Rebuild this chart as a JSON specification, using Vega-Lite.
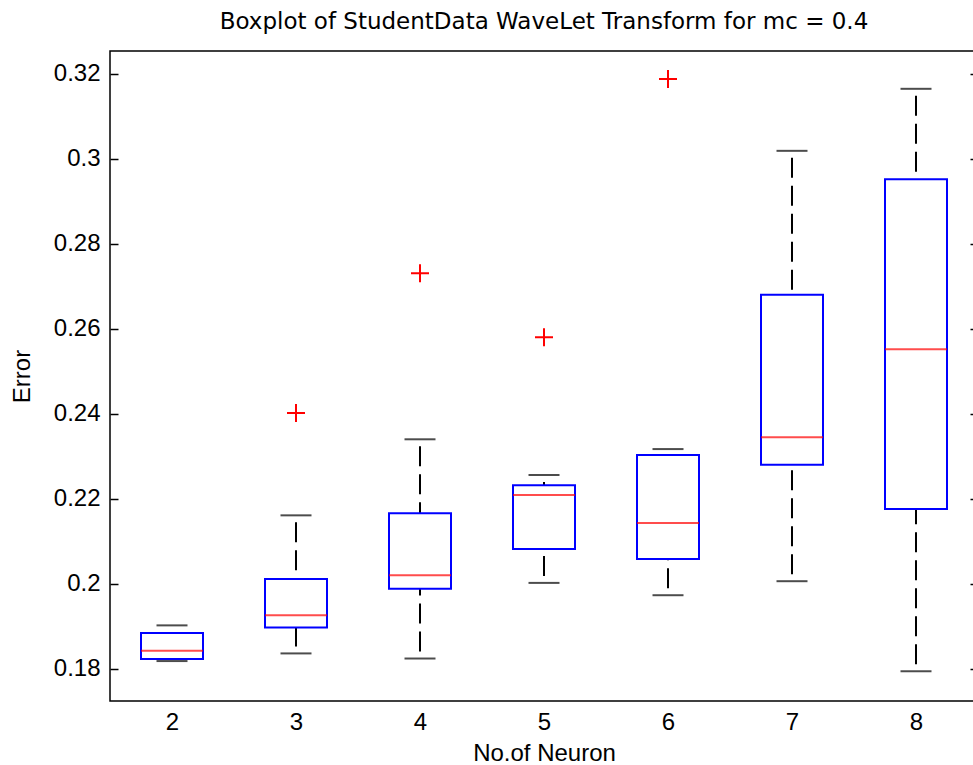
{
  "$schema": "https://vega.github.io/schema/vega-lite/v6.json",
  "autosize": {"type": "none"},
  "padding": {"left": 110, "top": 51, "right": -5, "bottom": 64},
  "width": 868,
  "height": 650,
  "background": "white",
  "title": {
    "text": "Boxplot of StudentData WaveLet Transform for mc = 0.4",
    "font": "DejaVu Sans",
    "fontSize": 23,
    "fontWeight": "normal",
    "color": "black",
    "anchor": "middle",
    "offset": 17
  },
  "config": {
    "view": {"stroke": "black", "strokeWidth": 1.5},
    "axis": {
      "labelFont": "Liberation Sans",
      "labelFontSize": 24,
      "labelColor": "black",
      "titleFont": "Liberation Sans",
      "titleFontSize": 24,
      "titleFontWeight": "normal",
      "titleColor": "black",
      "tickColor": "black",
      "tickWidth": 1.5,
      "grid": false,
      "domain": false
    }
  },
  "datasets": {
    "boxes": [
      {"n": 2, "lo": 0.1818, "q1": 0.1823, "med": 0.1842, "q3": 0.1884, "hi": 0.1902},
      {"n": 3, "lo": 0.1836, "q1": 0.1897, "med": 0.1926, "q3": 0.2011, "hi": 0.2161},
      {"n": 4, "lo": 0.1824, "q1": 0.1988, "med": 0.2020, "q3": 0.2166, "hi": 0.2340},
      {"n": 5, "lo": 0.2002, "q1": 0.2082, "med": 0.2209, "q3": 0.2232, "hi": 0.2256},
      {"n": 6, "lo": 0.1973, "q1": 0.2058, "med": 0.2143, "q3": 0.2303, "hi": 0.2317},
      {"n": 7, "lo": 0.2006, "q1": 0.2280, "med": 0.2345, "q3": 0.2680, "hi": 0.3019},
      {"n": 8, "lo": 0.1794, "q1": 0.2176, "med": 0.2552, "q3": 0.2952, "hi": 0.3165}
    ],
    "outliers": [
      {"n": 3, "err": 0.2402},
      {"n": 4, "err": 0.2731},
      {"n": 5, "err": 0.2580},
      {"n": 6, "err": 0.3188}
    ]
  },
  "encoding": {
    "x": {
      "field": "n", "type": "quantitative",
      "scale": {"domain": [1.5, 8.5], "nice": false, "zero": false, "padding": 0},
      "axis": {"values": [2, 3, 4, 5, 6, 7, 8], "format": "d", "ticks": false, "labelPadding": 9, "title": "No.of Neuron", "titlePadding": 7}
    }
  },
  "resolve": {"axis": {"y": "independent"}},
  "layer": [
    {
      "data": {"name": "boxes"},
      "mark": {"type": "rule", "color": "black", "strokeWidth": 2, "strokeDash": [20, 8], "strokeDashOffset": 21},
      "encoding": {
        "y": {
          "field": "hi", "type": "quantitative",
          "scale": {"domain": [0.1724, 0.3254], "nice": false, "zero": false, "padding": 0},
          "axis": {"orient": "left", "values": [0.18, 0.2, 0.22, 0.24, 0.26, 0.28, 0.3, 0.32], "format": ".2~f", "tickSize": -8, "labelPadding": 18, "title": "Error", "titlePadding": 19}
        },
        "y2": {"field": "q3"}
      }
    },
    {
      "data": {"name": "boxes"},
      "mark": {"type": "rule", "color": "black", "strokeWidth": 2, "strokeDash": [20, 8], "strokeDashOffset": 21},
      "encoding": {
        "y": {"field": "lo", "type": "quantitative", "axis": null},
        "y2": {"field": "q1"}
      }
    },
    {
      "data": {"name": "boxes"},
      "mark": {"type": "tick", "orient": "horizontal", "color": "black", "size": 31, "thickness": 2},
      "encoding": {
        "y": {"field": "hi", "type": "quantitative", "axis": null}
      }
    },
    {
      "data": {"name": "boxes"},
      "mark": {"type": "tick", "orient": "horizontal", "color": "black", "size": 31, "thickness": 2},
      "encoding": {
        "y": {"field": "lo", "type": "quantitative", "axis": null}
      }
    },
    {
      "data": {"name": "boxes"},
      "mark": {"type": "bar", "orient": "vertical", "size": 62, "fill": "white", "fillOpacity": 0, "stroke": "#0000ff", "strokeWidth": 2},
      "encoding": {
        "y": {"field": "q1", "type": "quantitative", "axis": null},
        "y2": {"field": "q3"}
      }
    },
    {
      "data": {"name": "boxes"},
      "mark": {"type": "tick", "orient": "horizontal", "color": "#ff0000", "size": 62, "thickness": 2},
      "encoding": {
        "y": {
          "field": "med", "type": "quantitative",
          "axis": {"orient": "right", "values": [0.18, 0.2, 0.22, 0.24, 0.26, 0.28, 0.3, 0.32], "labels": false, "tickSize": -8, "title": null}
        }
      }
    },
    {
      "data": {"name": "outliers"},
      "mark": {"type": "point", "shape": "M-1,0H1M0,-1V1", "size": 324, "filled": false, "stroke": "#ff0000", "strokeWidth": 2, "opacity": 1},
      "encoding": {
        "y": {"field": "err", "type": "quantitative", "axis": null}
      }
    }
  ]
}
